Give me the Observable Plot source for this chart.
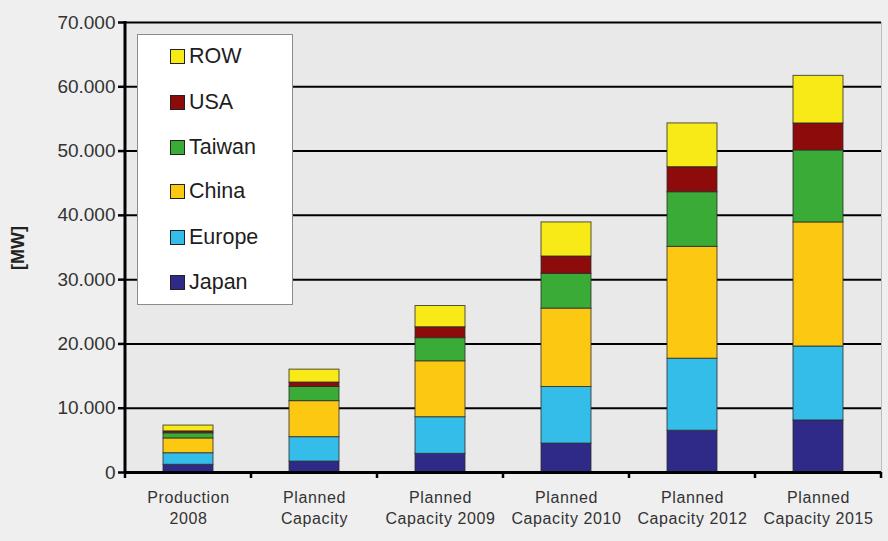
<!DOCTYPE html>
<html>
<head>
<meta charset="utf-8">
<script src="https://cdn.jsdelivr.net/npm/d3@7"></script>
<script src="https://cdn.jsdelivr.net/npm/@observablehq/plot@0.6"></script>
<style>
  html, body { margin: 0; padding: 0; background: #efefef; }
  #wrap { position: relative; width: 888px; height: 541px; font-family: "Liberation Sans", Arial, sans-serif; }
  #legend { position: absolute; left: 137px; top: 34px; width: 156px; height: 271px; background: #fff; border: 1px solid #8c8c8c; box-sizing: border-box; }
  .item { position: absolute; left: 32px; height: 26px; display: flex; align-items: center; font-size: 21.5px; color: #1e1e1e; }
  .sw { width: 13px; height: 13px; border: 1px solid #222; margin-right: 4px; flex: none; }
</style>
</head>
<body>
<div id="wrap"></div>
<script>
const categories = ["Production 2008", "Planned Capacity", "Planned Capacity 2009", "Planned Capacity 2010", "Planned Capacity 2012", "Planned Capacity 2015"];
const tickLabels = ["Production\n2008", "Planned\nCapacity", "Planned\nCapacity 2009", "Planned\nCapacity 2010", "Planned\nCapacity 2012", "Planned\nCapacity 2015"];
const regions = ["Japan", "Europe", "China", "Taiwan", "USA", "ROW"];
const colors = ["#2f2a88", "#35bdea", "#fcc812", "#3aab36", "#8e0b0b", "#f7ea17"];
const japan  = [1200, 1700, 2900, 4500, 6500, 8100];
const europe = [1800, 3800, 5700, 8800, 11200, 11500];
const china  = [2300, 5600, 8700, 12200, 17400, 19300];
const taiwan = [800, 2200, 3600, 5400, 8500, 11200];
const usa    = [300, 700, 1700, 2700, 3900, 4200];
const row    = [900, 2000, 3300, 5300, 6800, 7400];
const yTicks = [0, 10000, 20000, 30000, 40000, 50000, 60000, 70000];

const series = [japan, europe, china, taiwan, usa, row];
const data = [];
categories.forEach((c, i) => regions.forEach((r, j) => data.push({category: c, region: r, value: series[j][i]})));

const fmt = d3.formatLocale({decimal: ",", thousands: ".", grouping: [3], currency: ["", ""]}).format(",");

const chart = Plot.plot({
  width: 888,
  height: 541,
  marginLeft: 125,
  marginRight: 7,
  marginTop: 22,
  marginBottom: 69,
  style: {background: "transparent", fontFamily: "Liberation Sans, Arial, sans-serif", fontSize: "15px", color: "#333"},
  x: {domain: categories, paddingInner: 0.6, paddingOuter: 0.3, label: null, axis: null},
  y: {domain: [0, 70000], label: null, axis: null},
  color: {domain: regions, range: colors},
  marks: [
    Plot.frame({fill: "#e9e9e9", stroke: "#bdbdbd"}),
    Plot.gridY(yTicks, {stroke: "#000", strokeOpacity: 1, strokeWidth: 2}),
    Plot.barY(data, Plot.stackY({x: "category", y: "value", fill: "region", order: regions, stroke: "#2a2a2a", strokeWidth: 1, strokeOpacity: 0.8})),
    Plot.axisY(yTicks, {tickFormat: fmt, tickSize: 7, tickPadding: 3, stroke: "#000", strokeWidth: 2.5, fontSize: 19, fill: "#333", label: null}),
    Plot.axisX({tickFormat: (d) => tickLabels[categories.indexOf(d)], tickSize: 0, tickPadding: 16, fontSize: 16, fill: "#333", label: null, lineHeight: 1.3}),
    Plot.ruleY([0], {stroke: "#000", strokeWidth: 3})
  ]
});

const wrap = document.getElementById("wrap");
wrap.appendChild(chart);

const svg = d3.select(chart);
svg.selectAll("[aria-label='x-axis tick label'] text").style("letter-spacing", "0.6px");

// category boundary ticks on the x axis and y axis line
const xs = chart.scale("x");
const step = xs.step;
const x0 = xs.range[0];
const g = svg.append("g");
for (let k = 0; k <= categories.length; k++) {
  const xp = x0 + k * step;
  g.append("line").attr("x1", xp).attr("x2", xp).attr("y1", 472).attr("y2", 478).attr("stroke", "#000").attr("stroke-width", 2.5);
}
g.append("line").attr("x1", x0).attr("x2", x0).attr("y1", 21).attr("y2", 473).attr("stroke", "#000").attr("stroke-width", 3);
// y axis title
svg.append("text").attr("transform", "translate(24,248) rotate(-90)").attr("text-anchor", "middle")
  .attr("font-weight", "bold").attr("font-size", 18).attr("fill", "#222").text("[MW]");

// legend overlay
const legend = document.createElement("div");
legend.id = "legend";
const rowsTop = [8, 54, 99, 143, 189, 234];
regions.slice().reverse().forEach((r, i) => {
  const it = document.createElement("div");
  it.className = "item";
  it.style.top = rowsTop[i] + "px";
  const sw = document.createElement("span");
  sw.className = "sw";
  sw.style.background = colors[regions.indexOf(r)];
  it.appendChild(sw);
  it.appendChild(document.createTextNode(r));
  legend.appendChild(it);
});
wrap.appendChild(legend);
</script>
</body>
</html>
